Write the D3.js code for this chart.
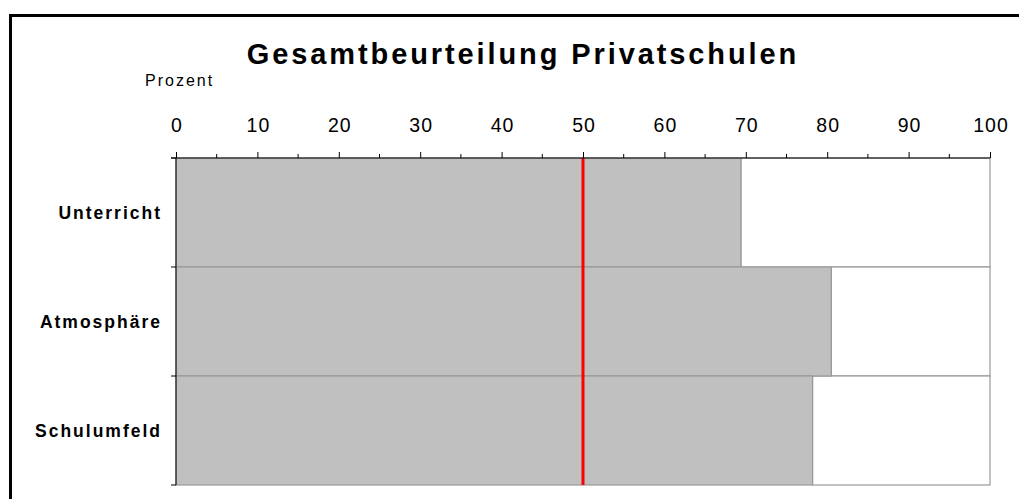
<!DOCTYPE html>
<html><head><meta charset="utf-8">
<script src="https://cdn.jsdelivr.net/npm/d3@7"></script>
<style>body{margin:0;background:#fff}svg{display:block;font-family:"Liberation Sans",Arial,sans-serif}</style>
</head><body>
<svg id="c" width="1019" height="499"></svg>
<script>
const categories = ["Unterricht", "Atmosphäre", "Schulumfeld"];
const values = [69.4, 80.5, 78.2];
const tickValues = [0,10,20,30,40,50,60,70,80,90,100];
const minorTicks = [5,15,25,35,45,55,65,75,85,95];
const referenceValue = 50;
const title = "Gesamtbeurteilung Privatschulen";
const axisTitle = "Prozent";

const svg = d3.select("#c");
const pL = 176, pR = 990, pT = 158, pB = 485;
const x = d3.scaleLinear().domain([0,100]).range([pL,pR]);
const y = d3.scaleBand().domain(categories).range([pT,pB]).padding(0);

// frame
svg.append("rect").attr("x",10.5).attr("y",15.5).attr("width",1030).attr("height",520)
  .attr("fill","none").attr("stroke","#000").attr("stroke-width",3);

// title
svg.append("text").attr("x",523).attr("y",64).attr("text-anchor","middle")
  .attr("font-size",29).attr("font-weight","bold").attr("letter-spacing",2.9).text(title);
svg.append("text").attr("x",145).attr("y",86).attr("font-size",16).attr("letter-spacing",2).text(axisTitle);

// remainder bars (white)
svg.append("g").selectAll("rect").data(categories).join("rect")
  .attr("x",(d,i)=>x(values[i])).attr("y",d=>y(d))
  .attr("width",(d,i)=>x(100)-x(values[i])).attr("height",y.bandwidth())
  .attr("fill","#fff").attr("stroke","#999").attr("stroke-width",1.2);
// value bars
svg.append("g").selectAll("rect").data(categories).join("rect")
  .attr("x",x(0)).attr("y",d=>y(d))
  .attr("width",(d,i)=>x(values[i])-x(0)).attr("height",y.bandwidth())
  .attr("fill","#c0c0c0").attr("stroke","#999").attr("stroke-width",1.2);

// reference line
svg.append("line").attr("x1",x(referenceValue)).attr("x2",x(referenceValue))
  .attr("y1",pT).attr("y2",pB).attr("stroke","#ff0000").attr("stroke-width",3);

// top axis
const gx = svg.append("g").attr("transform",`translate(0,${pT})`)
  .call(d3.axisTop(x).tickValues(tickValues).tickSize(6).tickPadding(20).tickFormat(d3.format("d")));
gx.select(".domain").attr("d",`M${pL-5},0H${pR}`).attr("stroke","#000");
gx.selectAll("text").attr("font-size",19.5).attr("letter-spacing",1).attr("dx",0.5)
  .attr("font-family","Liberation Sans, Arial, sans-serif").attr("fill","#000");
gx.selectAll("line").attr("stroke","#000");
svg.append("g").attr("transform",`translate(0,${pT})`)
  .selectAll("line").data(minorTicks).join("line")
  .attr("x1",d=>x(d)).attr("x2",d=>x(d)).attr("y1",0).attr("y2",-4).attr("stroke","#000");

// left axis
const bounds = categories.map(c=>y(c)).concat([pB]);
svg.append("line").attr("x1",pL).attr("x2",pL).attr("y1",pT).attr("y2",pB).attr("stroke","#000");
svg.append("g").selectAll("line").data(bounds).join("line")
  .attr("x1",pL-5).attr("x2",pL).attr("y1",d=>d).attr("y2",d=>d).attr("stroke","#000");
svg.append("g").selectAll("text").data(categories).join("text")
  .attr("x",162).attr("y",d=>y(d)+y.bandwidth()/2+6.5).attr("text-anchor","end")
  .attr("font-size",17.5).attr("font-weight","bold").attr("letter-spacing",2).text(d=>d);
</script>
</body></html>
